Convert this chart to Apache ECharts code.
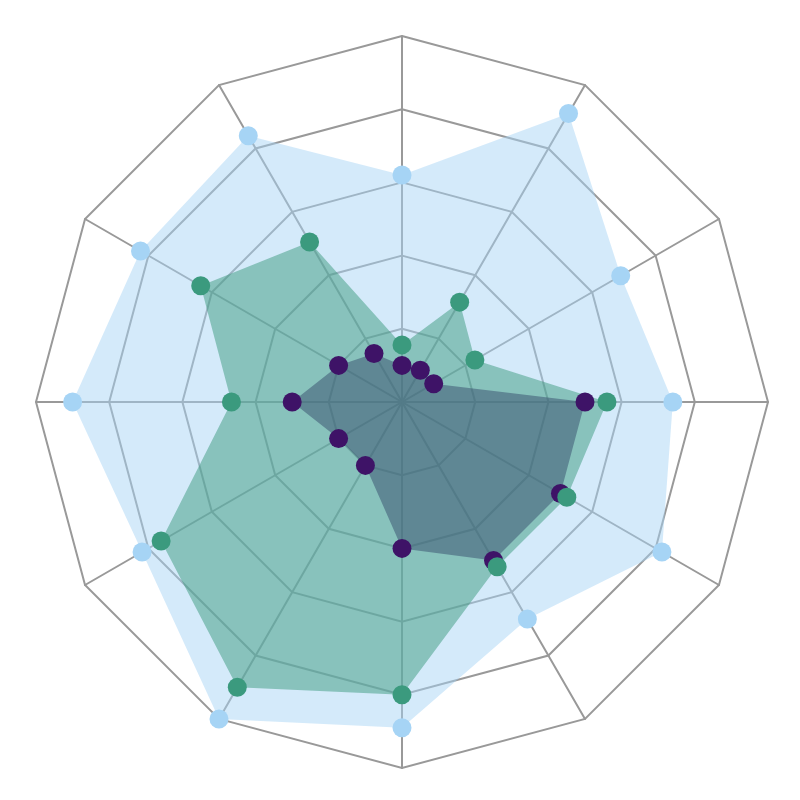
<!DOCTYPE html>
<html>
<head>
<meta charset="utf-8">
<script src="https://cdn.jsdelivr.net/npm/echarts@6/dist/echarts.min.js"></script>
<style>
  html, body { margin: 0; padding: 0; background: #fff; }
  #chart { width: 800px; height: 800px; }
</style>
</head>
<body>
<div id="chart"></div>
<script>
// values listed clockwise starting from the top spoke
const spokeCount = 12
const maxValue = 10
const blueValues = [6.2, 9.1, 6.9, 7.4, 8.2, 6.85, 8.9, 10.0, 8.2, 9.0, 8.25, 8.4]
const purpleValues = [1.0, 1.0, 1.0, 5.0, 5.0, 5.0, 4.0, 2.0, 2.0, 3.0, 2.0, 1.53]
const greenValues = [1.56, 3.15, 2.3, 5.6, 5.2, 5.2, 8.0, 9.0, 7.6, 4.66, 6.35, 5.05]

// echarts lays radar spokes out counter-clockwise, so flip the order
const toCcw = (arr) => [arr[0]].concat(arr.slice(1).reverse())

const indicators = []
for (let i = 0; i < spokeCount; i++) {
  indicators.push({ name: '', max: maxValue, min: 0 })
}

const chart = echarts.init(document.getElementById('chart'))

const makeSeries = (values, color, opacity) => ({
  type: 'radar',
  symbol: 'circle',
  symbolSize: 19,
  lineStyle: { width: 0, opacity: 0 },
  itemStyle: { color: color, opacity: 1 },
  areaStyle: { color: color, opacity: opacity },
  data: [{ value: toCcw(values) }]
})

chart.setOption({
  animation: false,
  backgroundColor: '#fff',
  radar: {
    center: [402, 402],
    radius: 366,
    startAngle: 90,
    shape: 'polygon',
    splitNumber: 5,
    indicator: indicators,
    axisName: { show: false },
    axisLine: { lineStyle: { color: '#999', width: 2 } },
    splitLine: { lineStyle: { color: '#999', width: 2 } },
    splitArea: { show: false }
  },
  series: [
    makeSeries(blueValues, '#a6d4f5', 0.48),
    makeSeries(purpleValues, '#3e1367', 0.55),
    makeSeries(greenValues, '#3b9a7e', 0.5)
  ]
})
</script>
</body>
</html>
